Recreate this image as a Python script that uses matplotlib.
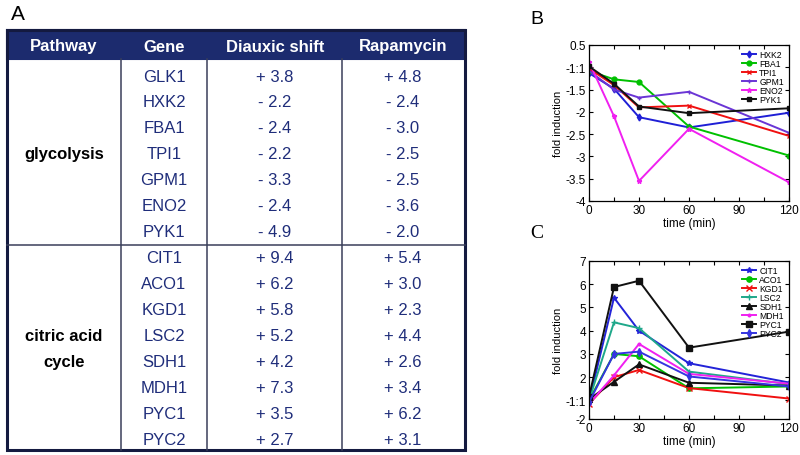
import matplotlib
matplotlib.use('Agg')
import matplotlib.pyplot as plt
from matplotlib.patches import Rectangle

plt.rcParams['font.family'] = ['Liberation Sans', 'DejaVu Sans']

# ---------------- Table data (panel A) ----------------
header = ["Pathway", "Gene", "Diauxic shift", "Rapamycin"]
genes = ["GLK1", "HXK2", "FBA1", "TPI1", "GPM1", "ENO2", "PYK1",
         "CIT1", "ACO1", "KGD1", "LSC2", "SDH1", "MDH1", "PYC1", "PYC2"]
diauxic = ["+ 3.8", "- 2.2", "- 2.4", "- 2.2", "- 3.3", "- 2.4", "- 4.9",
           "+ 9.4", "+ 6.2", "+ 5.8", "+ 5.2", "+ 4.2", "+ 7.3", "+ 3.5", "+ 2.7"]
rapamycin = ["+ 4.8", "- 2.4", "- 3.0", "- 2.5", "- 2.5", "- 3.6", "- 2.0",
             "+ 5.4", "+ 3.0", "+ 2.3", "+ 4.4", "+ 2.6", "+ 3.4", "+ 6.2", "+ 3.1"]
pathways = ["glycolysis", "citric acid\ncycle"]
pathway_nrows = [7, 8]

# ---------------- Panel B data (glycolysis) ----------------
time_min = [0, 15, 30, 60, 120]
HXK2 = [-1.13, -1.48, -2.12, -2.35, -2.02]
FBA1 = [-1.08, -1.27, -1.33, -2.33, -2.98]
TPI1 = [-1.03, -1.40, -1.90, -1.86, -2.54]
GPM1 = [-1.08, -1.50, -1.68, -1.55, -2.47]
ENO2 = [-0.88, -2.10, -3.55, -2.38, -3.58]
PYK1 = [-0.98, -1.37, -1.88, -2.03, -1.92]
b_ticks = [-4, -3.5, -3, -2.5, -2, -1.5, -1, -0.5]
b_ticklabels = ["-4", "-3.5", "-3", "-2.5", "-2", "-1.5", "-1:1", "0.5"]

# ---------------- Panel C data (citric acid cycle) ----------------
CIT1 = [0.95, 5.42, 4.00, 2.60, 1.77]
ACO1 = [1.00, 3.00, 2.90, 1.52, 1.60]
KGD1 = [0.85, 2.00, 2.31, 1.53, 1.08]
LSC2 = [1.00, 4.36, 4.11, 2.24, 1.70]
SDH1 = [1.05, 1.80, 2.55, 1.76, 1.64]
MDH1 = [0.85, 2.08, 3.43, 2.14, 1.72]
PYC1 = [1.15, 5.88, 6.15, 3.27, 3.96]
PYC2 = [0.92, 3.00, 3.10, 2.03, 1.60]
c_ticks = [0.2, 1, 2, 3, 4, 5, 6, 7]
c_ticklabels = ["-2", "-1:1", "2", "3", "4", "5", "6", "7"]

x_ticks = [0, 15, 30, 45, 60, 75, 90, 105, 120]
x_ticklabels = ["0", "", "30", "", "60", "", "90", "", "120"]

NAVY = '#1c2b6e'
TXT = '#1f2d7a'

fig = plt.figure(figsize=(8, 4.56), dpi=100)

# ---------------- Panel A: table ----------------
axt = fig.add_axes([0, 0, 1, 1])
axt.set_xlim(0, 800)
axt.set_ylim(456, 0)
axt.axis('off')

left, right, top, hdr_bot, bottom = 7, 465, 31, 60, 451
col_lines = [121, 207, 342]
col_centers = [64, 164, 275, 403]
row0, row_h = 77, 26

axt.add_patch(Rectangle((left, top), right - left, hdr_bot - top, facecolor=NAVY, edgecolor=NAVY, lw=1.5))
for cx in col_lines:
    axt.plot([cx, cx], [hdr_bot, bottom], color='#3a3f5a', lw=1.1)
axt.add_patch(Rectangle((left, top), right - left, bottom - top, facecolor='none', edgecolor='#141a40', lw=2.2))
for h, cx in zip(header, col_centers):
    axt.text(cx, 47, h, color='white', fontsize=12, fontweight='bold', ha='center', va='center')

for i, (g, d, r) in enumerate(zip(genes, diauxic, rapamycin)):
    y = row0 + i * row_h
    axt.text(col_centers[1], y, g, color=TXT, fontsize=12, ha='center', va='center')
    axt.text(col_centers[2], y, d, color=TXT, fontsize=12, ha='center', va='center')
    axt.text(col_centers[3], y, r, color=TXT, fontsize=12, ha='center', va='center')

start = 0
for name, n in zip(pathways, pathway_nrows):
    if start > 0:
        ysep = row0 + (start - 0.5) * row_h
        axt.plot([left, right], [ysep, ysep], color='#3a3f5a', lw=1.1)
    lines = name.split("\n")
    ymid = row0 + (start + (n - 1) / 2) * row_h
    for k, ln in enumerate(lines):
        yy = ymid + (k - (len(lines) - 1) / 2) * row_h
        axt.text(col_centers[0], yy, ln, color='black', fontsize=12, fontweight='bold', ha='center', va='center')
    start += n

axt.text(11, 14, "A", fontsize=15, ha='left', va='center')
axt.text(530, 20, "B", fontsize=14, ha='left', va='center')
axt.text(530, 234, "C", fontsize=14, ha='left', va='center', family=['Liberation Serif', 'DejaVu Serif'])

# ---------------- helper for line panels ----------------
def style_axes(ax, yticks, ylabels, ylim):
    ax.set_xlim(0, 120)
    ax.set_ylim(*ylim)
    ax.set_xticks(x_ticks)
    ax.set_xticklabels(x_ticklabels)
    ax.set_yticks(yticks)
    ax.set_yticklabels(ylabels)
    ax.tick_params(direction='in', top=True, right=True, length=3, width=0.8,
                   labelsize=8.5, pad=2)
    for s in ax.spines.values():
        s.set_linewidth(0.9)
    ax.set_xlabel("time (min)", fontsize=8.5, labelpad=1)
    ax.set_ylabel("fold induction", fontsize=8, labelpad=2)

# ---------------- Panel B ----------------
axb = fig.add_axes([589 / 800, 1 - 202 / 456, 200 / 800, 156 / 456])
b_series = [("HXK2", HXK2, '#1f1fd6', 'd'),
            ("FBA1", FBA1, '#00c000', 'o'),
            ("TPI1", TPI1, '#f01010', 'x'),
            ("GPM1", GPM1, '#6a35d5', '+'),
            ("ENO2", ENO2, '#f020f0', '*'),
            ("PYK1", PYK1, '#111111', 's')]
for name, vals, col, mk in b_series:
    axb.plot(time_min, vals, color=col, marker=mk, markersize=3.5, lw=1.4, label=name)
style_axes(axb, b_ticks, b_ticklabels, (-4, -0.5))
axb.legend(loc='upper right', frameon=False, fontsize=6.2, labelspacing=0, handlelength=1.6,
           handletextpad=0.4, borderaxespad=0.4, borderpad=0.2)

# ---------------- Panel C ----------------
axc = fig.add_axes([589 / 800, 1 - 420 / 456, 200 / 800, 158 / 456])
c_series = [("CIT1", CIT1, '#2323d8', '*'),
            ("ACO1", ACO1, '#00c000', 'o'),
            ("KGD1", KGD1, '#f01010', 'x'),
            ("LSC2", LSC2, '#1fa88a', '+'),
            ("SDH1", SDH1, '#111111', '^'),
            ("MDH1", MDH1, '#f020f0', '.'),
            ("PYC1", PYC1, '#111111', 's'),
            ("PYC2", PYC2, '#3434e0', 'd')]
for name, vals, col, mk in c_series:
    axc.plot(time_min, vals, color=col, marker=mk, markersize=3.8, lw=1.4, label=name)
style_axes(axc, c_ticks, c_ticklabels, (0.2, 7))
axc.legend(loc='upper right', frameon=False, fontsize=6.2, labelspacing=0, handlelength=1.6,
           handletextpad=0.4, borderaxespad=0.4, borderpad=0.2)

fig.savefig("out.png", dpi=100)
